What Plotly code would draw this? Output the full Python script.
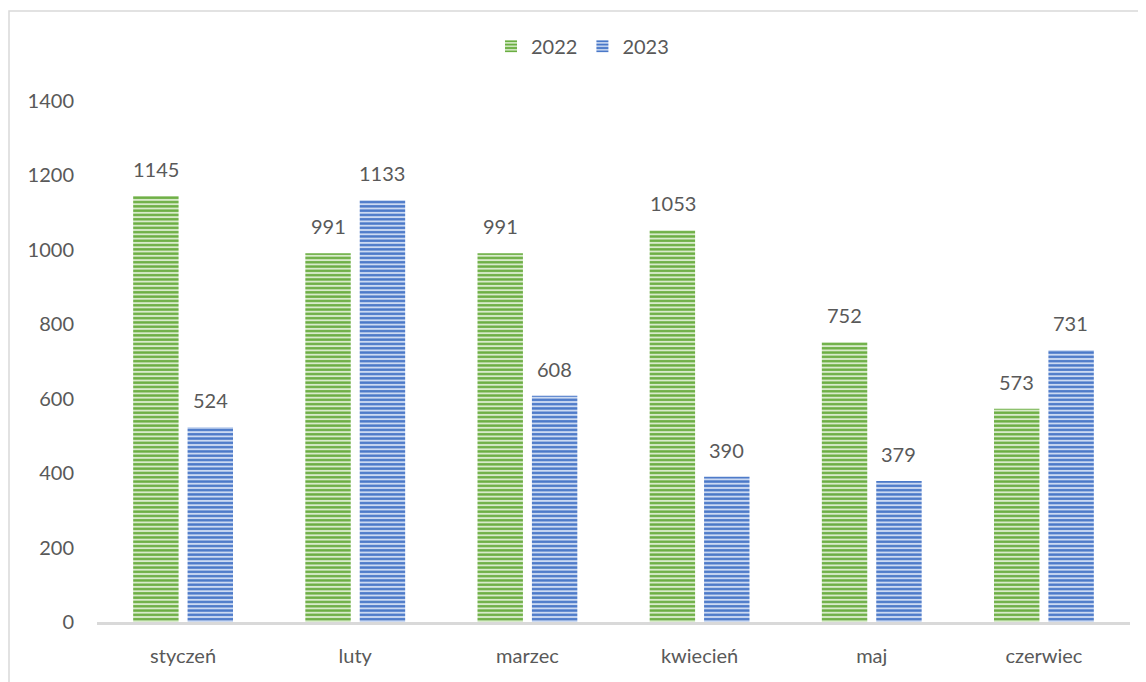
import plotly.graph_objects as go

months = ["styczeń", "luty", "marzec", "kwiecień", "maj", "czerwiec"]
v2022 = [1145, 991, 991, 1053, 752, 573]
v2023 = [524, 1133, 608, 390, 379, 731]
y_ticks = [0, 200, 400, 600, 800, 1000, 1200, 1400]

FONT = "Lato, Carlito, Calibri, sans-serif"
TXT = "#595959"

fig = go.Figure()
series = [
    ("2022", v2022, "#D8EBCB", "#6BAE42"),
    ("2023", v2023, "#CCDAF2", "#4A78C8"),
]
for name, vals, bg, fg in series:
    fig.add_trace(go.Bar(
        x=months, y=vals, name=name,
        marker=dict(
            color=bg,
            line=dict(width=0),
            pattern=dict(shape="-", fgcolor=fg, bgcolor=bg,
                         size=4.3, solidity=0.55, fillmode="replace"),
        ),
    ))

ann = []
for i, name_vals in enumerate([v2022, v2023]):
    for m, v in zip(months, name_vals):
        ann.append(dict(x=m, y=v, text=str(v), showarrow=False, yanchor="bottom",
                        yshift=13, xshift=(-27 if i == 0 else 27),
                        font=dict(family=FONT, size=20, color=TXT)))

# page body has an 8px offset; plot area in figure pixels: x 89..1122, y 93..614
PL, PR, PT, PB = 89, 1122, 93, 614
PW, PH = PR - PL, PB - PT

fig.update_layout(
    width=1146, height=682,
    margin=dict(l=PL, r=1146 - PR, t=PT, b=682 - PB, autoexpand=False),
    paper_bgcolor="white", plot_bgcolor="white",
    barmode="group", bargap=0.368, bargroupgap=0.165,
    font=dict(family=FONT, size=20, color=TXT),
    legend=dict(orientation="h", x=0.47, xanchor="center", y=1.105, yanchor="middle",
                font=dict(family=FONT, size=20, color=TXT), itemwidth=30,
                bgcolor="rgba(0,0,0,0)", traceorder="normal"),
    xaxis=dict(showline=True, linecolor="#D9D9D9", linewidth=3, ticks="",
               ticklabelstandoff=14,
               tickfont=dict(family=FONT, size=20, color=TXT), showgrid=False),
    yaxis=dict(range=[0, 1400], tickvals=y_ticks, showgrid=False, zeroline=False,
               showline=False, ticks="", ticklabelstandoff=22,
               tickfont=dict(family=FONT, size=20, color=TXT)),
    annotations=ann,
    shapes=[dict(type="rect", xref="paper", yref="paper",
                 x0=(1 - PL) / PW, x1=1.1, y0=-0.3, y1=(PB - 3) / PH,
                 line=dict(color="#D9D9D9", width=1.5), fillcolor="rgba(0,0,0,0)", layer="below")],
)

fig.write_html("out.html")
